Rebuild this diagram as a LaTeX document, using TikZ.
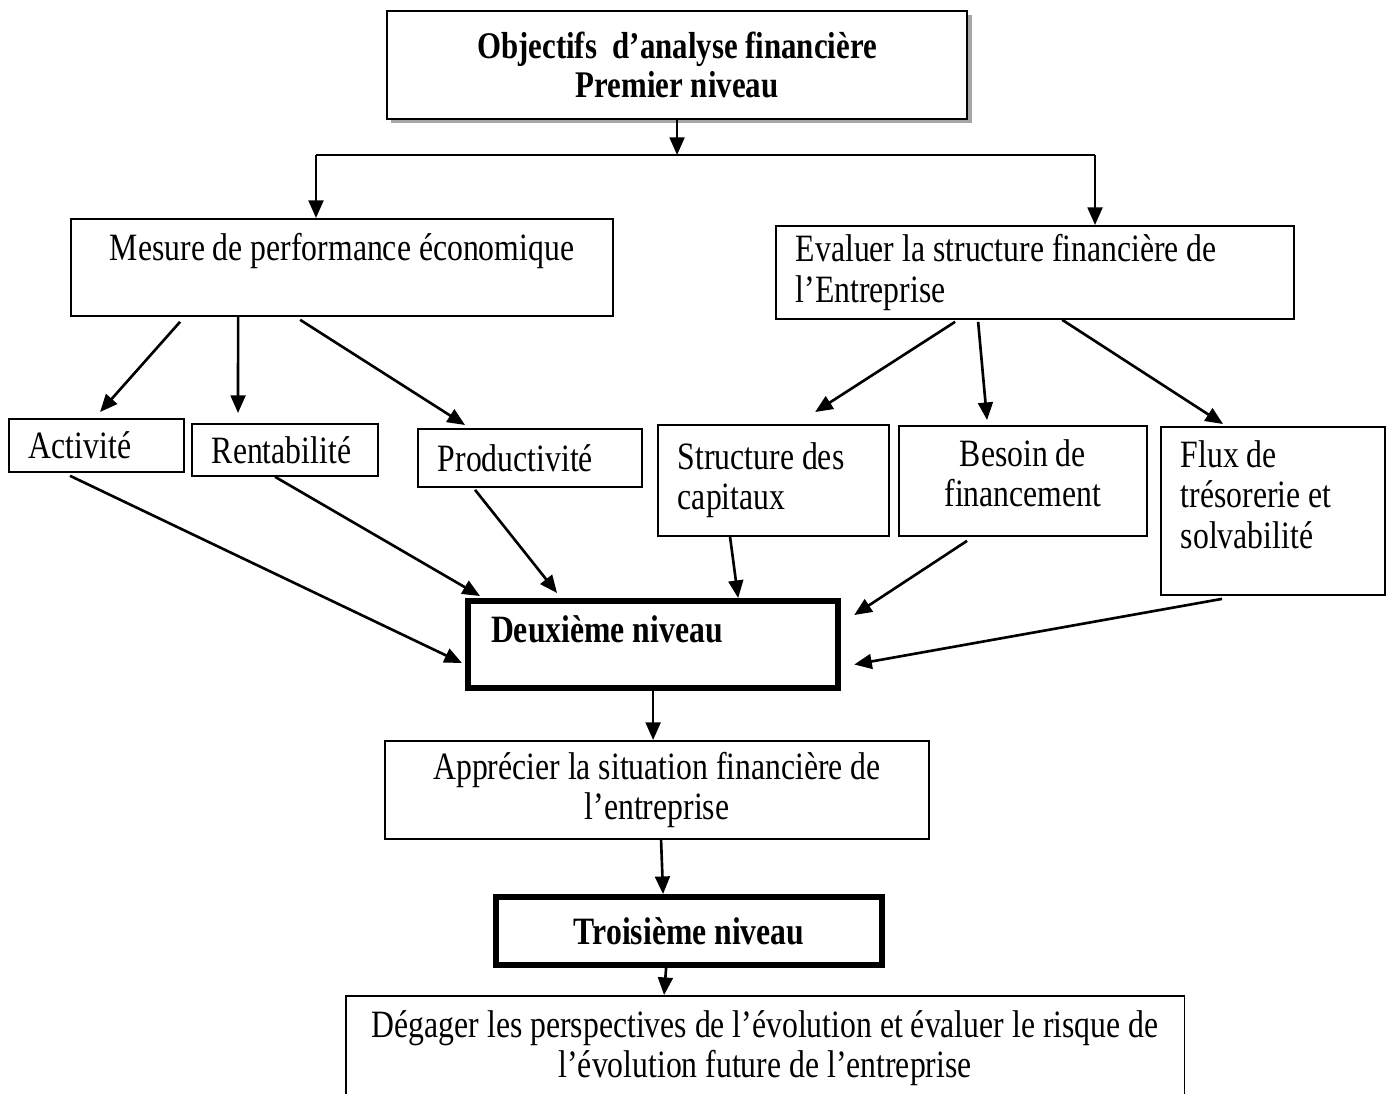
\documentclass[tikz,border=0pt]{standalone}
\usepackage{fontspec}
\setmainfont{Liberation Serif}[FakeStretch=0.82]
\usetikzlibrary{arrows.meta,shadows}

\begin{document}
\begin{tikzpicture}
[x=0.01cm,y=-0.01cm,
  boxDecorate/.style={draw,line width=0.5pt,anchor=north west,inner xsep=0.2cm,inner ysep=0pt,
    font=\fontsize{11}{11.5}\selectfont},
  leftDecorate/.style={boxDecorate,align=flush left},
  centerDecorate/.style={boxDecorate,align=center},
  levelDecorate/.style={boxDecorate,line width=1.7pt,font=\fontsize{11}{11.5}\selectfont\bfseries},
  lineDecorate/.style={-{Triangle[length=5pt,width=4.2pt]},line width=0.75pt}]
\useasboundingbox (0,0) rectangle (1392,1093);
%% boxes
\node[centerDecorate,minimum width=5.8cm,minimum height=1.08cm,fill=white,
  drop shadow={shadow xshift=0.045cm,shadow yshift=-0.045cm,fill=gray!70,opacity=1},
  font=\fontsize{10.7}{11.3}\selectfont\bfseries]
  (objectifs) at (386,10) {Objectifs\ \ d’analyse financière\\Premier niveau};
\node[centerDecorate,minimum width=5.42cm,minimum height=0.97cm] (mesure) at (70,218)
  {Mesure de performance économique\\~};
\node[leftDecorate,text width=4.78cm,minimum height=0.93cm] (evaluer) at (775,225)
  {Evaluer la structure financière de\\l’Entreprise};
\node[leftDecorate,text width=1.35cm,minimum height=0.53cm] (activite) at (8,418) {Activité};
\node[leftDecorate,text width=1.46cm,minimum height=0.52cm] (rentabilite) at (191,423) {Rentabilité};
\node[leftDecorate,text width=1.84cm,minimum height=0.58cm] (productivite) at (417,428) {Productivité};
\node[leftDecorate,text width=1.91cm,minimum height=1.11cm] (structure) at (657,424)
  {Structure des\\capitaux};
\node[centerDecorate,minimum width=2.48cm,minimum height=1.1cm,text depth=0.16cm] (besoin) at (898,425)
  {Besoin de\\financement};
\node[leftDecorate,text width=1.84cm,minimum height=1.68cm,text depth=1.14cm] (flux) at (1160,426)
  {Flux de\\trésorerie et\\solvabilité};
\node[levelDecorate,align=flush left,inner xsep=0.23cm,text width=3.24cm,minimum height=0.87cm,
  text depth=0.3cm] (deuxieme) at (465,598) {Deuxième niveau};
\node[centerDecorate,minimum width=5.44cm,minimum height=0.98cm] (apprecier) at (384,740)
  {Apprécier la situation financière de\\l’entreprise};
\node[levelDecorate,align=center,minimum width=3.86cm,minimum height=0.68cm]
  (troisieme) at (493,894) {Troisième niveau};
\node[centerDecorate,minimum width=8.38cm,minimum height=1.04cm] (degager) at (345,995)
  {Dégager les perspectives de l’évolution et évaluer le risque de\\l’évolution future de l’entreprise};
%% bus line under the first level
\coordinate (busleft) at (316,155);
\coordinate (busright) at (1095,155);
\draw[line width=0.5pt] (busleft) -- (busright);
%% arrows
\draw[lineDecorate] (objectifs.south) -- (objectifs.south |- busleft);
\draw[lineDecorate] (busleft) -- (busleft |- mesure.north);
\draw[lineDecorate] (busright) -- (busright |- evaluer.north);
\draw[lineDecorate] ([xshift=1.1cm,yshift=-0.05cm]mesure.south west) -- ([xshift=0.92cm,yshift=0.06cm]activite.north west);
\draw[lineDecorate] ([xshift=1.68cm]mesure.south west) -- ([xshift=0.47cm,yshift=0.1cm]rentabilite.north west);
\draw[lineDecorate] ([xshift=2.3cm,yshift=-0.03cm]mesure.south west) -- ([xshift=0.48cm,yshift=0.03cm]productivite.north west);
\draw[lineDecorate] ([xshift=1.8cm,yshift=-0.02cm]evaluer.south west) -- ([xshift=1.58cm,yshift=0.12cm]structure.north west);
\draw[lineDecorate] ([xshift=2.03cm,yshift=-0.02cm]evaluer.south west) -- ([xshift=0.89cm,yshift=0.05cm]besoin.north west);
\draw[lineDecorate] ([xshift=2.87cm]evaluer.south west) -- ([xshift=0.63cm,yshift=0.02cm]flux.north west);
\draw[lineDecorate] ([xshift=0.62cm,yshift=-0.03cm]activite.south west) -- ([xshift=-0.03cm,yshift=-0.185cm]deuxieme.west);
\draw[lineDecorate] ([xshift=0.84cm]rentabilite.south west) -- ([xshift=0.15cm,yshift=0.02cm]deuxieme.north west);
\draw[lineDecorate] ([xshift=0.58cm,yshift=-0.02cm]productivite.south west) -- ([xshift=0.92cm,yshift=0.05cm]deuxieme.north west);
\draw[lineDecorate] ([xshift=0.73cm]structure.south west) -- ([xshift=2.73cm]deuxieme.north west);
\draw[lineDecorate] ([xshift=0.69cm,yshift=-0.04cm]besoin.south west) -- ([xshift=0.13cm,yshift=-0.17cm]deuxieme.north east);
\draw[lineDecorate] ([xshift=0.62cm,yshift=-0.03cm]flux.south west) -- ([xshift=0.13cm,yshift=-0.2cm]deuxieme.east);
\draw[lineDecorate] (deuxieme.south) -- (deuxieme.south |- apprecier.north);
\draw[lineDecorate] ([xshift=0.04cm]apprecier.south) -- ([xshift=-0.26cm]troisieme.north);
\draw[lineDecorate] ([xshift=-0.23cm]troisieme.south) -- ([xshift=-1.01cm]degager.north);
\end{tikzpicture}
\end{document}
